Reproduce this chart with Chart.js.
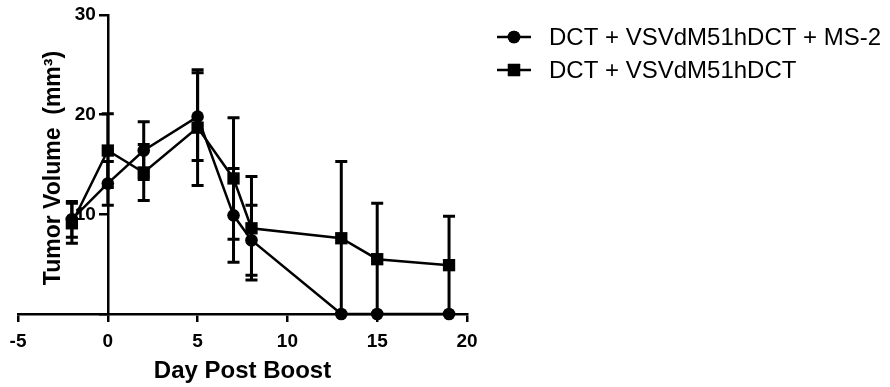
<!DOCTYPE html>
<html><head><meta charset="utf-8">
<script src="https://cdn.jsdelivr.net/npm/chart.js@4.4.1/dist/chart.umd.min.js"></script>
<style>html,body{margin:0;padding:0;background:#fff}#wrap{position:relative;width:890px;height:387px}</style>
</head><body><div id="wrap"><canvas id="c" width="890" height="387"></canvas></div>
<script>
const days = [-2, 0, 2, 5, 7, 8, 13, 15, 19];
const seriesNames = ['DCT + VSVdM51hDCT + MS-2', 'DCT + VSVdM51hDCT'];
const circleMean = [9.5, 13.1, 16.4, 19.8, 9.9, 7.4, 0, 0, 0];
const circleErr  = [1.8, 2.2, 2.9, 4.4, 4.7, 3.5, 0, 0, 0];
const squareMean = [9.1, 16.4, 14.2, 18.7, 13.6, 8.6, 7.6, 5.5, 4.9];
const squareErr  = [2.0, 3.7, 2.8, 5.8, 6.1, 5.2, 7.7, 5.6, 4.9];
const xTicks = [-5, 0, 5, 10, 15, 20];
const yTicks = [0, 10, 20, 30];
const xTitle = 'Day Post Boost';
const yTitle = 'Tumor Volume  (mm\u00B3)';

const FONT = "'Liberation Sans', Arial, Helvetica, sans-serif";
const styles = [
  {pointStyle: 'circle', radius: 6.3},
  {pointStyle: 'rect', radius: 8.7}
];
const errs = [circleErr, squareErr];

function pts(means) { return days.map((d, i) => ({x: d, y: means[i]})); }

const errorBarPlugin = {
  id: 'errorBars',
  beforeDatasetsDraw(chart) {
    const ctx = chart.ctx, xs = chart.scales.x, ys = chart.scales.y;
    ctx.save();
    ctx.strokeStyle = '#000';
    ctx.lineWidth = 3;
    ctx.lineCap = 'butt';
    chart.data.datasets.forEach((ds, di) => {
      const e = errs[di];
      ds.data.forEach((p, i) => {
        if (!e[i]) return;
        const x = xs.getPixelForValue(p.x);
        const hi = p.y + e[i];
        const lo = Math.max(0, p.y - e[i]);
        const yt = ys.getPixelForValue(hi), yb = ys.getPixelForValue(lo);
        ctx.beginPath();
        ctx.moveTo(x, yt); ctx.lineTo(x, yb);
        ctx.moveTo(x - 6, yt); ctx.lineTo(x + 6, yt);
        if (p.y - e[i] > 0) { ctx.moveTo(x - 6, yb); ctx.lineTo(x + 6, yb); }
        ctx.stroke();
      });
    });
    ctx.restore();
  }
};

// shift y tick labels left of the tick marks (axis is placed at x = 0)
const yLabelShift = {
  id: 'yLabelShift',
  beforeDraw(chart) {
    const items = chart.scales.y.getLabelItems();
    items.forEach(it => {
      if (!it._shifted) { it.options.translation[0] -= 12; it._shifted = true; }
    });
  }
};

const extrasPlugin = {
  id: 'extras',
  afterDraw(chart) {
    const ctx = chart.ctx;
    ctx.save();
    ctx.translate(54, 168);
    ctx.rotate(-Math.PI / 2);
    ctx.font = 'bold 23px ' + FONT;
    ctx.fillStyle = '#000';
    ctx.textAlign = 'center';
    ctx.textBaseline = 'middle';
    ctx.fillText(yTitle, 0, 0);
    ctx.restore();
    const rows = [37, 70];
    chart.data.datasets.forEach((ds, i) => {
      const y = rows[i];
      ctx.save();
      ctx.strokeStyle = '#000';
      ctx.lineWidth = 2.5;
      ctx.beginPath(); ctx.moveTo(497, y); ctx.lineTo(531, y); ctx.stroke();
      ctx.fillStyle = '#000';
      Chart.helpers.drawPoint(ctx, {pointStyle: styles[i].pointStyle, radius: styles[i].radius, rotation: 0, borderWidth: 0}, 514, y);
      ctx.fill();
      ctx.font = '24px ' + FONT;
      ctx.textAlign = 'left';
      ctx.textBaseline = 'middle';
      ctx.fillText(seriesNames[i], 549, y + 1);
      ctx.restore();
    });
  }
};

const axisCommon = {
  grid: {display: true, drawOnChartArea: false, drawTicks: true, tickLength: 8, color: '#000', lineWidth: 2.5},
  border: {display: true, color: '#000', width: 2.5},
  ticks: {color: '#000', font: {family: FONT, size: 19, weight: 'bold'}}
};

new Chart(document.getElementById('c'), {
  type: 'scatter',
  data: {
    datasets: [0, 1].map(i => ({
      label: seriesNames[i],
      data: pts(i === 0 ? circleMean : squareMean),
      showLine: true,
      borderColor: '#000',
      backgroundColor: '#000',
      borderWidth: 2.5,
      pointStyle: styles[i].pointStyle,
      pointRadius: styles[i].radius,
      pointBorderWidth: 0,
      pointBackgroundColor: '#000',
      clip: false
    }))
  },
  options: {
    responsive: false,
    animation: false,
    events: [],
    layout: {padding: {left: 18, right: 423, top: 15, bottom: 0}},
    plugins: {legend: {display: false}, tooltip: {enabled: false}},
    scales: {
      x: {
        type: 'linear', position: 'bottom', min: -5, max: 20,
        afterBuildTicks: s => { s.ticks = xTicks.map(v => ({value: v})); },
        afterFit: s => { s.height = 73; },
        grid: axisCommon.grid, border: axisCommon.border,
        ticks: Object.assign({}, axisCommon.ticks, {padding: 8, callback: v => String(v)}),
        title: {display: true, text: xTitle, color: '#000', font: {family: FONT, size: 24, weight: 'bold'}, padding: {top: 0, bottom: 1}}
      },
      y: {
        type: 'linear', position: {x: 0}, min: 0, max: 30,
        afterBuildTicks: s => { s.ticks = yTicks.map(v => ({value: v})); },
        grid: axisCommon.grid, border: axisCommon.border,
        ticks: Object.assign({}, axisCommon.ticks, {padding: 3, callback: v => v === 0 ? '' : String(v)})
      }
    }
  },
  plugins: [errorBarPlugin, yLabelShift, extrasPlugin]
});
</script>
</body></html>
